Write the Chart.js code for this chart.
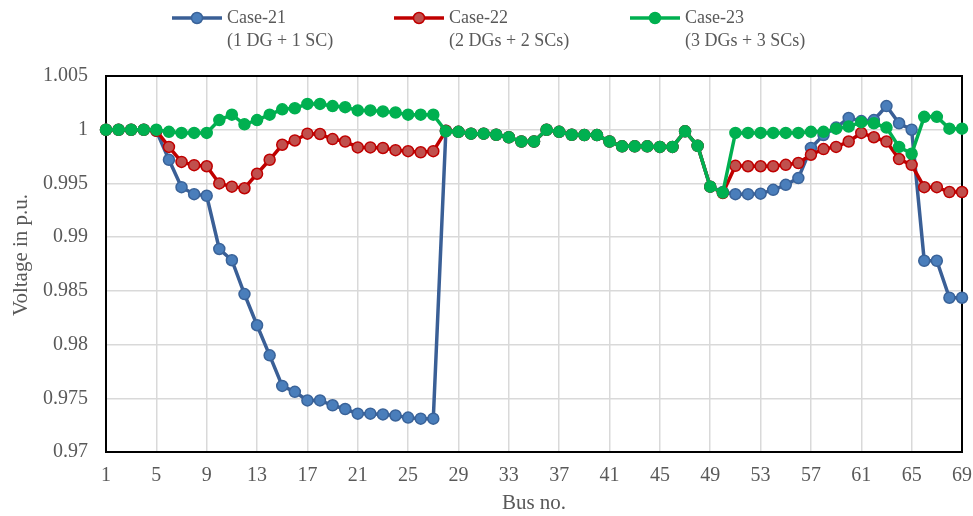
<!DOCTYPE html>
<html>
<head>
<meta charset="utf-8">
<script src="https://cdn.jsdelivr.net/npm/chart.js@4.4.1/dist/chart.umd.min.js"></script>
<style>
  html, body { margin: 0; padding: 0; background: #fff; }
  #wrap { width: 973px; height: 516px; }
</style>
</head>
<body>
<div id="wrap"><canvas id="myChart" width="973" height="516"></canvas></div>
<script>
// bus numbers 1..69
const buses = [];
for (let i = 1; i <= 69; i++) buses.push(String(i));

const case21 = [
  1.0, 1.0, 1.0, 1.0, 0.9999, 0.9972, 0.99465, 0.9940, 0.99385, 0.9889,
  0.98785, 0.9847, 0.9818, 0.9790, 0.97615, 0.9756, 0.9748, 0.9748, 0.97435, 0.9740,
  0.97357, 0.97357, 0.9735, 0.9734, 0.9732, 0.9731, 0.9731, 0.9999, 0.9998, 0.99963,
  0.99963, 0.99953, 0.9993, 0.9989, 0.9989, 1.0, 0.9998, 0.99953, 0.9995, 0.9995,
  0.9989, 0.99845, 0.99845, 0.99845, 0.9984, 0.9984, 0.99985, 0.9985, 0.9947, 0.9942,
  0.9940, 0.9940, 0.99405, 0.9944, 0.99487, 0.9955, 0.9983, 0.9995, 1.0002, 1.0011,
  1.0008, 1.0009, 1.0022, 1.0006, 1.0, 0.9878, 0.9878, 0.98436, 0.98436
];

const case22 = [
  1.0, 1.0, 1.0, 1.0, 0.9999, 0.9984, 0.9970, 0.9967, 0.9966, 0.9950,
  0.9947, 0.99455, 0.9959, 0.9972, 0.9986, 0.9990, 0.99963, 0.9996, 0.99913, 0.9989,
  0.99835, 0.99835, 0.9983, 0.9981, 0.9980, 0.9979, 0.9980, 0.9999, 0.9998, 0.99963,
  0.99963, 0.99953, 0.9993, 0.9989, 0.9989, 1.0, 0.9998, 0.99953, 0.9995, 0.9995,
  0.9989, 0.99845, 0.99845, 0.99845, 0.9984, 0.9984, 0.99985, 0.9985, 0.9947, 0.9941,
  0.99664, 0.9966, 0.9966, 0.9966, 0.99673, 0.9969, 0.99767, 0.9982, 0.9984, 0.9989,
  0.9997, 0.9993, 0.9989, 0.99727, 0.99673, 0.99465, 0.99465, 0.9942, 0.9942
];

const case23 = [
  1.0, 1.0, 1.0, 1.0, 1.0, 0.9998, 0.9997, 0.9997, 0.9997, 1.0009,
  1.0014, 1.0005, 1.0009, 1.0014, 1.0019, 1.0020, 1.0024, 1.0024, 1.0022, 1.0021,
  1.0018, 1.0018, 1.0017, 1.0016, 1.0014, 1.0014, 1.0014, 0.99985, 0.9998, 0.99963,
  0.99963, 0.99953, 0.9993, 0.9989, 0.9989, 1.0, 0.9998, 0.99953, 0.9995, 0.9995,
  0.9989, 0.99845, 0.99845, 0.99845, 0.9984, 0.9984, 0.99985, 0.9985, 0.9947, 0.99415,
  0.9997, 0.9997, 0.9997, 0.9997, 0.9997, 0.9997, 0.9998, 0.9998, 1.0001, 1.0003,
  1.0007, 1.0006, 1.0002, 0.9984, 0.99776, 1.0012, 1.0012, 1.0001, 1.0001
];

const legendNames = ["Case-21", "Case-22", "Case-23"];
const legendSubs = ["(1 DG + 1 SC)", "(2 DGs + 2 SCs)", "(3 DGs + 3 SCs)"];
const legendX = [172, 394, 630];
const yTitle = "Voltage in p.u.";

const FONT = "'Liberation Serif', 'Times New Roman', serif";
const GREY = "#595959";

// black frame around the plot area
const framePlugin = {
  id: "frame",
  beforeDatasetsDraw(chart) {
    const a = chart.chartArea;
    const ctx = chart.ctx;
    ctx.save();
    ctx.strokeStyle = "#000";
    ctx.lineWidth = 2;
    ctx.strokeRect(a.left, a.top, a.right - a.left, a.bottom - a.top);
    ctx.restore();
  }
};

// two-line legend at the top + y axis title
const legendPlugin = {
  id: "topLegend",
  afterDraw(chart) {
    const ctx = chart.ctx;
    ctx.save();
    chart.data.datasets.forEach((ds, i) => {
      const x = legendX[i];
      const y = 18;
      ctx.strokeStyle = ds.borderColor;
      ctx.lineWidth = ds.borderWidth;
      ctx.beginPath();
      ctx.moveTo(x, y);
      ctx.lineTo(x + 50, y);
      ctx.stroke();
      ctx.beginPath();
      ctx.arc(x + 25, y, ds.pointRadius, 0, Math.PI * 2);
      ctx.fillStyle = ds.pointBackgroundColor;
      ctx.fill();
      ctx.lineWidth = ds.pointBorderWidth;
      ctx.strokeStyle = ds.pointBorderColor;
      ctx.stroke();
      ctx.fillStyle = GREY;
      ctx.font = "18px " + FONT;
      ctx.textBaseline = "middle";
      ctx.textAlign = "left";
      ctx.fillText(legendNames[i], x + 55, y);
      ctx.fillText(legendSubs[i], x + 55, y + 23);
    });

    // y title
    ctx.translate(21, 255);
    ctx.rotate(-Math.PI / 2);
    ctx.fillStyle = GREY;
    ctx.font = "21px " + FONT;
    ctx.textAlign = "center";
    ctx.textBaseline = "middle";
    ctx.fillText(yTitle, 0, 0);
    ctx.restore();
  }
};

const ctx = document.getElementById("myChart").getContext("2d");
const chart = new Chart(ctx, {
  type: "line",
  data: {
    labels: buses,
    datasets: [
      {
        label: legendNames[0],
        data: case21,
        borderColor: "#3A5F96",
        borderWidth: 3.5,
        pointRadius: 5.5,
        pointBackgroundColor: "#4A7EBB",
        pointBorderColor: "#3A6399",
        pointBorderWidth: 1.5,
        tension: 0,
        order: 3
      },
      {
        label: legendNames[1],
        data: case22,
        borderColor: "#C00000",
        borderWidth: 3.5,
        pointRadius: 5.5,
        pointBackgroundColor: "#C0504D",
        pointBorderColor: "#C00000",
        pointBorderWidth: 1.5,
        tension: 0,
        order: 2
      },
      {
        label: legendNames[2],
        data: case23,
        borderColor: "#00B050",
        borderWidth: 3.5,
        pointRadius: 5.5,
        pointBackgroundColor: "#00B050",
        pointBorderColor: "#00B050",
        pointBorderWidth: 1.5,
        tension: 0,
        order: 1
      }
    ]
  },
  options: {
    responsive: false,
    animation: false,
    layout: { padding: { top: 76, right: 11, left: 0, bottom: 0 } },
    plugins: {
      legend: { display: false },
      tooltip: { enabled: false }
    },
    scales: {
      x: {
        type: "category",
        offset: false,
        border: { display: false },
        grid: {
          drawTicks: false,
          lineWidth: 1.5,
          color: (c) => (c.index % 4 === 0 ? "#d9d9d9" : "rgba(0,0,0,0)")
        },
        ticks: {
          autoSkip: false,
          maxRotation: 0,
          padding: 12,
          color: GREY,
          font: { family: FONT, size: 20 },
          callback: function (val, idx) {
            return idx % 4 === 0 ? this.getLabelForValue(val) : "";
          }
        },
        title: {
          display: true,
          text: "Bus no.",
          color: GREY,
          font: { family: FONT, size: 21 },
          padding: { top: 0, bottom: 0 }
        },
        afterFit(scale) {
          scale.height = 64;
          scale.paddingLeft = 0;
          scale.paddingRight = 0;
        }
      },
      y: {
        min: 0.97,
        max: 1.005,
        border: { display: false },
        grid: { drawTicks: false, lineWidth: 1.5, color: "#d9d9d9" },
        ticks: {
          stepSize: 0.005,
          padding: 18,
          color: GREY,
          font: { family: FONT, size: 20 },
          callback: (v) => String(Number(v.toFixed(3)))
        },
        afterFit(scale) {
          scale.width = 106;
          scale.paddingTop = 0;
          scale.paddingBottom = 0;
        }
      }
    }
  },
  plugins: [framePlugin, legendPlugin]
});
</script>
</body>
</html>
